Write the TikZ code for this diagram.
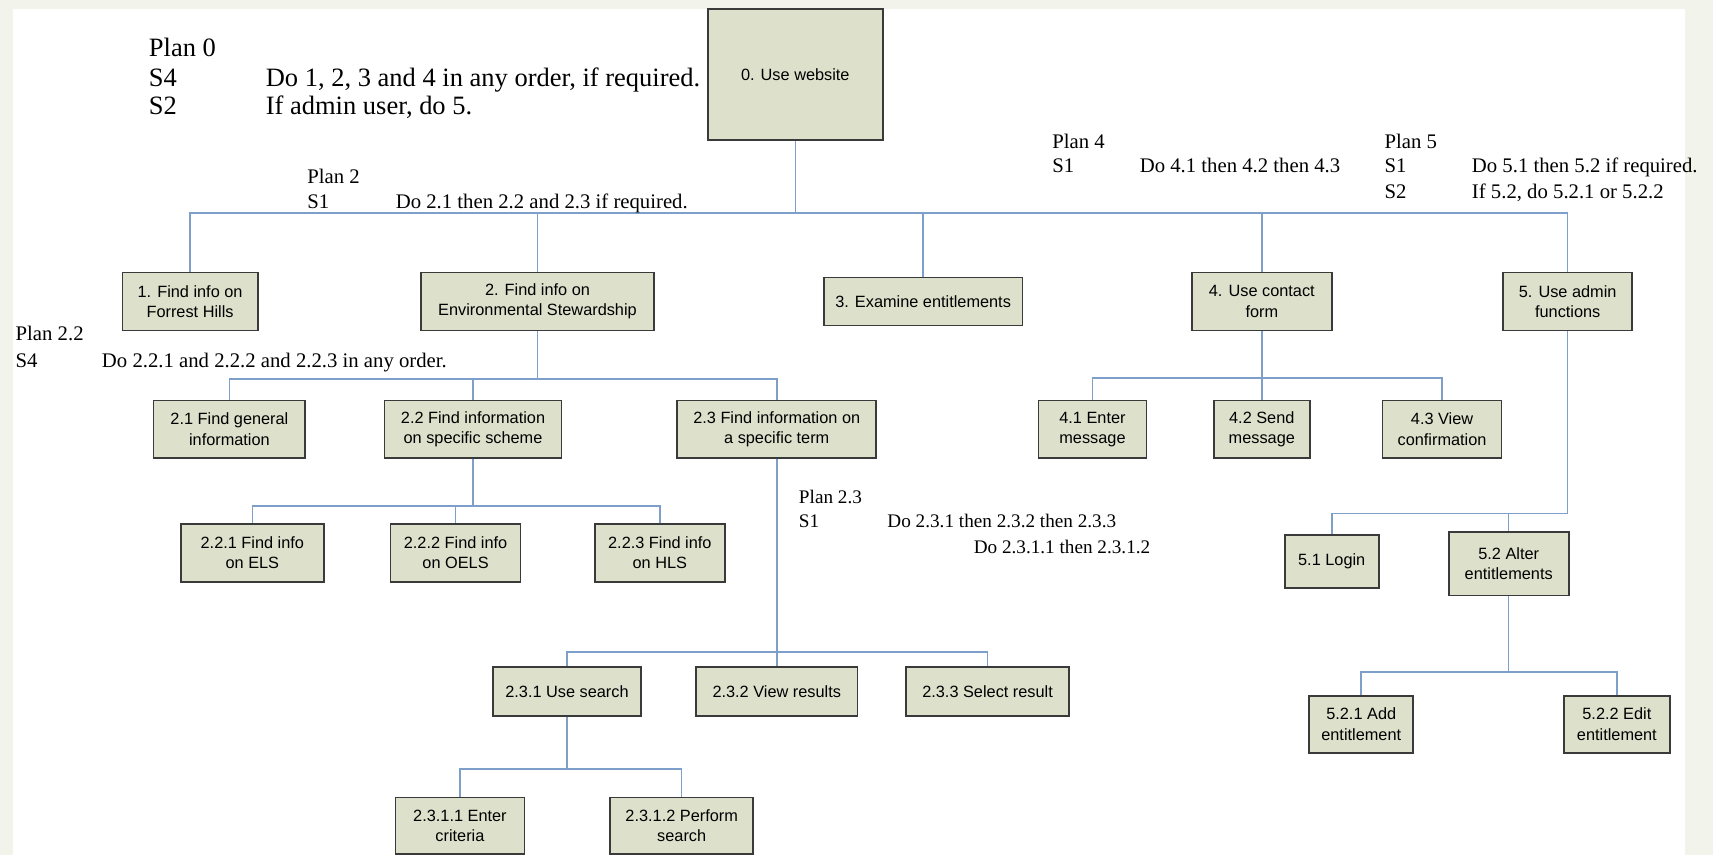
\documentclass[tikz,border=0pt]{standalone}
\usepackage{fontspec}
\setmainfont{Liberation Serif}
\newfontfamily\boxfont{Liberation Sans}
\usetikzlibrary{positioning}
\definecolor{boxfill}{HTML}{DDE0CB}
\definecolor{boxline}{HTML}{3A3A3A}
\definecolor{wireblue}{HTML}{7F9FCB}
\definecolor{speck}{HTML}{F2F3EA}

\begin{document}
\begin{tikzpicture}[x=0.02cm,y=-0.02cm,
  task/.style={draw=boxline,fill=boxfill,line width=0.9pt,align=center,inner sep=1pt,
    font=\boxfont\fontsize{8.5}{10.6}\selectfont,minimum height=1.06cm},
  wire/.style={draw=wireblue,line width=0.8pt},
  plan/.style={anchor=base west,inner sep=0pt,font=\fontsize{10.8}{13}\selectfont},
  bigplan/.style={plan,font=\fontsize{13.8}{16}\selectfont}]
% --- page
\fill[speck] (0,0) rectangle (1568,783);
\fill[white] (12,8) rectangle (1542,783);
\useasboundingbox (0,0) rectangle (1568,783);
% --- top
\node[task,minimum width=3.2cm,minimum height=2.4cm] (t0) at (728,68) {0. Use website};
\node[task,minimum width=2.48cm] (t1) at (174,276) {1. Find info on\\Forrest Hills};
\node[task,minimum width=4.26cm] (t2) at (492,276) {2. Find info on\\Environmental Stewardship};
\node[task,minimum width=3.64cm,minimum height=0.88cm] (t3) at (845,276) {3. Examine entitlements};
\node[task,minimum width=2.56cm] (t4) at (1155,276) {4. Use contact\\form};
\node[task,minimum width=2.36cm] (t5) at (1435,276) {5. Use admin\\functions};
% --- under 2
\node[task,minimum width=2.78cm] (t21) at (210,393) {2.1 Find general\\information};
\node[task,minimum width=3.24cm] (t22) at (433,393) {2.2 Find information\\on specific scheme};
\node[task,minimum width=3.64cm] (t23) at (711,393) {2.3 Find information on\\a specific term};
\node[task,minimum width=2.62cm] (t221) at (231,506) {2.2.1 Find info\\on ELS};
\node[task,minimum width=2.38cm] (t222) at (417,506) {2.2.2 Find info\\on OELS};
\node[task,minimum width=2.38cm] (t223) at (604,506) {2.2.3 Find info\\on HLS};
\node[task,minimum width=2.7cm,minimum height=0.9cm] (t231) at (519,633) {2.3.1 Use search};
\node[task,minimum width=2.96cm,minimum height=0.9cm] (t232) at (711,633) {2.3.2 View results};
\node[task,minimum width=2.98cm,minimum height=0.9cm] (t233) at (904,633) {2.3.3 Select result};
\node[task,minimum width=2.36cm,minimum height=1.04cm] (t2311) at (421,756) {2.3.1.1 Enter\\criteria};
\node[task,minimum width=2.62cm,minimum height=1.04cm] (t2312) at (624,756) {2.3.1.2 Perform\\search};
% --- under 4 and 5
\node[task,minimum width=1.98cm] (t41) at (1000,393) {4.1 Enter\\message};
\node[task,minimum width=1.76cm] (t42) at (1155,393) {4.2 Send\\message};
\node[task,minimum width=2.18cm] (t43) at (1320,393) {4.3 View\\confirmation};
\node[task,minimum width=1.72cm,minimum height=0.96cm] (t51) at (1219,514) {5.1 Login};
\node[task,minimum width=2.2cm,minimum height=1.16cm] (t52) at (1381,516) {5.2 Alter\\entitlements};
\node[task,minimum width=1.9cm,minimum height=1.04cm] (t521) at (1246,663) {5.2.1 Add\\entitlement};
\node[task,minimum width=1.94cm,minimum height=1.04cm] (t522) at (1480,663) {5.2.2 Edit\\entitlement};
% --- bus points
\coordinate (b0) at (728,195);
\coordinate (b2) at (492,347);
\coordinate (b22) at (433,463);
\coordinate (b23) at (711,597);
\coordinate (b231) at (519,704);
\coordinate (b4) at (1155,346);
\coordinate (b5) at (1435,470);
\coordinate (b52) at (1381,615);
% --- links
\draw[wire] (t0.south) -- (b0);
\foreach \c in {t1,t2,t3,t4,t5} {\draw[wire] (b0) -| (\c.north);}
\draw[wire] (t2.south) -- (b2);
\foreach \c in {t21,t22,t23} {\draw[wire] (b2) -| (\c.north);}
\draw[wire] (t22.south) -- (b22);
\foreach \c in {t221,t222,t223} {\draw[wire] (b22) -| (\c.north);}
\draw[wire] (t23.south) -- (b23);
\foreach \c in {t231,t232,t233} {\draw[wire] (b23) -| (\c.north);}
\draw[wire] (t231.south) -- (b231);
\foreach \c in {t2311,t2312} {\draw[wire] (b231) -| (\c.north);}
\draw[wire] (t4.south) -- (b4);
\foreach \c in {t41,t42,t43} {\draw[wire] (b4) -| (\c.north);}
\draw[wire] (t5.south) -- (b5);
\foreach \c in {t51,t52} {\draw[wire] (b5) -| (\c.north);}
\draw[wire] (t52.south) -- (b52);
\foreach \c in {t521,t522} {\draw[wire] (b52) -| (\c.north);}
% --- plans
\node[bigplan] (p0) at (136,52) {Plan 0};
\node[bigplan] (p0a) at (136,79) {S4};
\node[bigplan] (p0b) at (243,79) {Do 1, 2, 3 and 4 in any order, if required.};
\node[bigplan] (p0c) at (136,105) {S2};
\node[bigplan] (p0d) at (243,105) {If admin user, do 5.};
\node[plan] (p2) at (281,168) {Plan 2};
\node[plan] (p2a) at (281,191) {S1};
\node[plan] (p2b) at (362,191) {Do 2.1 then 2.2 and 2.3 if required.};
\node[plan] (p22) at (14,312) {Plan 2.2};
\node[plan] (p22a) at (14,336) {S4};
\node[plan] (p22b) at (93,336) {Do 2.2.1 and 2.2.2 and 2.2.3 in any order.};
\node[plan] (p4) at (963,136) {Plan 4};
\node[plan] (p4a) at (963,158) {S1};
\node[plan] (p4b) at (1043,158) {Do 4.1 then 4.2 then 4.3};
\node[plan] (p5) at (1267,136) {Plan 5};
\node[plan] (p5a) at (1267,158) {S1};
\node[plan] (p5b) at (1347,158) {Do 5.1 then 5.2 if required.};
\node[plan] (p5c) at (1267,182) {S2};
\node[plan] (p5d) at (1347,182) {If 5.2, do 5.2.1 or 5.2.2};
\node[plan,font=\fontsize{10}{12}\selectfont] (p23) at (731,461) {Plan 2.3};
\node[plan,font=\fontsize{10}{12}\selectfont] (p23a) at (731,483) {S1};
\node[plan,font=\fontsize{10}{12}\selectfont] (p23b) at (812,483) {Do 2.3.1 then 2.3.2 then 2.3.3};
\node[plan,font=\fontsize{10}{12}\selectfont] (p23c) at (891,507) {Do 2.3.1.1 then 2.3.1.2};
\end{tikzpicture}
\end{document}
